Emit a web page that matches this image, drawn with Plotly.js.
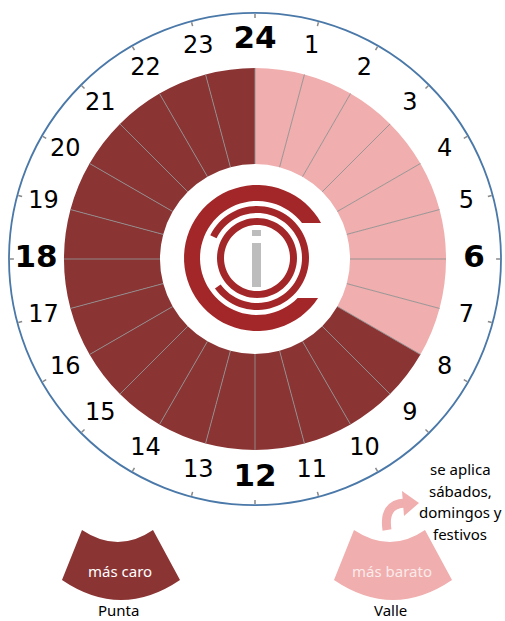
<!DOCTYPE html>
<html><head><meta charset="utf-8">
<script src="https://cdn.plot.ly/plotly-3.0.1.min.js"></script>
<style>html,body{margin:0;padding:0;background:#fff}#chart{width:505px;height:621px}</style>
</head><body><div id="chart"></div>
<script>
// ---- data ----
const hours = [0,1,2,3,4,5,6,7,8,9,10,11,12,13,14,15,16,17,18,19,20,21,22,23];
const hourLabels = ['24','1','2','3','4','5','6','7','8','9','10','11','12','13','14','15','16','17','18','19','20','21','22','23'];
const majorHours = [0,6,12,18];
const valleHours = [0,1,2,3,4,5,6,7];
const valleLevel = [1,1,1,1,1,1,1,1];
const puntaHours = [8,9,10,11,12,13,14,15,16,17,18,19,20,21,22,23];
const puntaLevel = [1,1,1,1,1,1,1,1,1,1,1,1,1,1,1,1];
const legendInside = ['más caro','más barato'];
const legendNames = ['Punta','Valle'];
const noteLines = ['se aplica','sábados,','domingos y','festivos'];

// ---- helpers ----
const W = 505, H = 621;
const DARK = '#8B3434', PINK = '#F0AEAE', LOGO = '#A32628';
const px = x => x / W, py = y => 1 - y / H;
const P = (x, y) => px(x).toFixed(5) + ',' + py(y).toFixed(5);
function arc(cx, cy, r, a0, a1, n) {
  const pts = [];
  for (let i = 0; i <= n; i++) {
    const a = (a0 + (a1 - a0) * i / n) * Math.PI / 180;
    pts.push(P(cx + r * Math.cos(a), cy + r * Math.sin(a)));
  }
  return pts;
}
const deg = h => h * 15;
const BASE = 0.99;          // inner radius of the ring (radial units)
const RMAX = 2.5625;        // outer circle (radial units)

// ---- traces ----
const traces = [
  {type:'barpolar', theta: valleHours.map(h => deg(h) + 7.5), r: valleLevel, base: BASE, width: valleHours.map(() => 15),
   marker:{color: PINK, line:{width:0}}, hoverinfo:'skip', showlegend:false},
  {type:'barpolar', theta: puntaHours.map(h => deg(h) + 7.5), r: puntaLevel, base: BASE, width: puntaHours.map(() => 15),
   marker:{color: DARK, line:{width:0}}, hoverinfo:'skip', showlegend:false},
  {type:'scatterpolar', mode:'lines',
   theta: hours.flatMap(h => [deg(h), deg(h), null]),
   r: hours.flatMap(() => [BASE, BASE + 1, null]),
   line:{color:'#909090', width:0.9}, hoverinfo:'skip', showlegend:false},
  {type:'scatterpolar', mode:'text',
   theta: hours.map(deg), r: hours.map(() => 2.281),
   text: hours.map(h => majorHours.includes(h) ? '<b>' + hourLabels[h] + '</b>' : hourLabels[h]),
   textfont:{family:'DejaVu Sans', color:'#000', size: hours.map(h => majorHours.includes(h) ? 31 : 24)},
   textposition:'middle center', hoverinfo:'skip', showlegend:false}
];

// ---- logo & legend shapes ----
const cx = 257, cy = 258;
const shapes = [];
// thick outer C
{
  const ro = 73, ri = 57;
  const aoT = 360 - Math.asin(35/ro)*180/Math.PI, aoB = Math.asin(40/ro)*180/Math.PI;
  const aiT = 360 - Math.asin(35/ri)*180/Math.PI, aiB = Math.asin(40/ri)*180/Math.PI;
  const outer = arc(cx, cy, ro, aoT, aoB, 60);
  const inner = arc(cx, cy, ri, aiB, aiT, 60);
  shapes.push({type:'path', xref:'paper', yref:'paper', path:'M' + outer.join(' L') + ' L' + inner.join(' L') + ' Z',
    fillcolor: LOGO, line:{width:0}});
}
// middle ring (gap on the left)
{
  const ro = 52, ri = 45;
  const outer = arc(cx, cy, ro, 206, 504, 70);
  const inner = arc(cx, cy, ri, 504, 206, 70);
  shapes.push({type:'path', xref:'paper', yref:'paper', path:'M' + outer.join(' L') + ' L' + inner.join(' L') + ' Z',
    fillcolor: LOGO, line:{width:0}});
}
// inner ring
{
  const ro = 40, ri = 33;
  const outer = arc(cx, cy, ro, 0, 360, 72);
  const inner = arc(cx, cy, ri, 360, 0, 72);
  shapes.push({type:'path', xref:'paper', yref:'paper', path:'M' + outer.join(' L') + ' Z M' + inner.join(' L') + ' Z',
    fillcolor: LOGO, line:{width:0}});
}
// the "i"
shapes.push({type:'rect', xref:'paper', yref:'paper', x0:px(252), x1:px(261), y0:py(236), y1:py(230), fillcolor:'#BDBDBD', line:{width:0}});
shapes.push({type:'rect', xref:'paper', yref:'paper', x0:px(252), x1:px(261), y0:py(287), y1:py(243), fillcolor:'#BDBDBD', line:{width:0}});

// legend sectors
function sector(dx, color) {
  return {type:'path', xref:'paper', yref:'paper',
    path:'M' + P(82+dx,530) + ' Q' + P(118+dx,554) + ' ' + P(153+dx,530) + ' L' + P(180+dx,580) +
         ' Q' + P(121+dx,620) + ' ' + P(62+dx,580) + ' Z',
    fillcolor: color, line:{width:0}};
}
shapes.push(sector(0, DARK));
shapes.push(sector(272, PINK));
// curved arrow
shapes.push({type:'path', xref:'paper', yref:'paper',
  path:'M' + P(387,530) + ' Q' + P(383,504) + ' ' + P(405,503), line:{color:PINK, width:9}, fillcolor:'rgba(0,0,0,0)'});
shapes.push({type:'path', xref:'paper', yref:'paper',
  path:'M' + P(402,491) + ' L' + P(419,503) + ' L' + P(404,516) + ' Z', fillcolor:PINK, line:{width:0}});

// ---- annotations ----
const ann = [];
const legX = [120, 392];
legendInside.forEach((t, i) => ann.push({xref:'paper', yref:'paper', x:px(legX[i]), y:py(571), text:t, showarrow:false,
  xanchor:'center', yanchor:'middle', font:{family:'Noto Sans', size:15, color: i === 0 ? '#ffffff' : '#fbeaea'}}));
legendNames.forEach((t, i) => ann.push({xref:'paper', yref:'paper', x:px(legX[i] - 2), y:py(610), text:t, showarrow:false,
  xanchor:'center', yanchor:'middle', font:{family:'Noto Sans', size:15, color:'#000'}}));
noteLines.forEach((t, i) => ann.push({xref:'paper', yref:'paper', x:px(460), y:py(469 + i * 21.5), text:t, showarrow:false,
  xanchor:'center', yanchor:'middle', font:{family:'Noto Sans', size:15, color:'#000'}}));

const layout = {
  width: W, height: H,
  margin:{l:0, r:0, t:0, b:0},
  paper_bgcolor:'#fff', plot_bgcolor:'#fff',
  showlegend:false,
  polar:{
    domain:{x:[px(9), px(501)], y:[py(505), py(13)]},
    bgcolor:'#fff',
    barmode:'overlay',
    radialaxis:{visible:false, range:[0, RMAX]},
    angularaxis:{rotation:90, direction:'clockwise', thetaunit:'degrees',
      tickmode:'array', tickvals: hours.map(deg), showticklabels:false,
      ticks:'inside', ticklen:4, tickcolor:'#888', tickwidth:1.5,
      showgrid:false, showline:true, linecolor:'#4A78A8', linewidth:1.8}
  },
  shapes: shapes,
  annotations: ann
};
Plotly.newPlot('chart', traces, layout, {displayModeBar:false, staticPlot:true});
</script>
</body></html>
